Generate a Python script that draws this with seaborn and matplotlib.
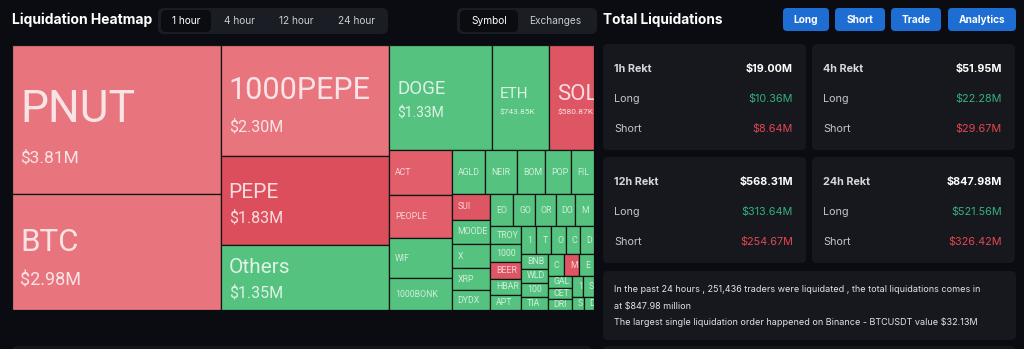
import math
import matplotlib
matplotlib.use("Agg")
import matplotlib.pyplot as plt
from matplotlib.patches import Rectangle, FancyBboxPatch
import seaborn as sns

# ---------------- data ----------------
coins = ["PNUT", "BTC", "1000PEPE", "PEPE", "Others", "DOGE", "ETH", "SOL",
         "ACT", "PEOPLE", "WIF", "1000BONK",
         "AGLD", "NEIRO", "BOME", "POPCAT", "FIL",
         "SUI", "MOODENG", "X", "XRP", "DYDX",
         "EOS", "GOAT", "ORDI", "DOGS", "MEME",
         "TROY", "1000CAT", "BEER", "HBAR", "APT",
         "1000LUNC", "TAO", "OM", "CRV", "DOT",
         "BNB", "WLD", "1000RATS", "TIA",
         "CAKE", "MEW", "ENA", "GALA", "CETUS", "DRIFT", "1MBABYDOGE", "SAND", "SATS", "DYM"]
liq_musd = [3.81, 2.98, 2.30, 1.83, 1.35, 1.33, 0.74385, 0.58087,
            0.344, 0.328, 0.313, 0.244,
            0.180, 0.170, 0.148, 0.138, 0.123,
            0.122, 0.117, 0.115, 0.103, 0.094,
            0.091, 0.087, 0.083, 0.079, 0.075,
            0.068, 0.066, 0.064, 0.061, 0.057,
            0.052, 0.051, 0.050, 0.049, 0.048,
            0.047, 0.046, 0.045, 0.043,
            0.042, 0.041, 0.038, 0.036, 0.034, 0.032, 0.030, 0.029, 0.018, 0.016]
# short-heavy coins and how strongly (0 = light red, 1 = deep red)
short_heavy = {"PNUT": 0.0, "BTC": 0.0, "1000PEPE": 0.0, "PEPE": 1.0, "SOL": 0.85,
               "ACT": 0.6, "PEOPLE": 0.6, "SUI": 0.75, "BEER": 0.75, "MEW": 0.75}

tabs_time = ["1 hour", "4 hour", "12 hour", "24 hour"]
tabs_group = ["Symbol", "Exchanges"]
buttons = ["Long", "Short", "Trade", "Analytics"]

periods = ["1h Rekt", "4h Rekt", "12h Rekt", "24h Rekt"]
total_rekt = ["$19.00M", "$51.95M", "$568.31M", "$847.98M"]
long_rekt = ["$10.36M", "$22.28M", "$313.64M", "$521.56M"]
short_rekt = ["$8.64M", "$29.67M", "$254.67M", "$326.42M"]

summary = ["In the past 24 hours , 251,436 traders were liquidated , the total liquidations comes in",
           "at $847.98 million",
           "The largest single liquidation order happened on Binance - BTCUSDT value $32.13M"]

# ---------------- style ----------------
sns.set_theme(style="dark")
plt.rcParams["font.family"] = ["Inter", "DejaVu Sans"]
BG = "#0b0c11"
CARD = "#16181e"
TABBG = "#1b1d24"
BLUE = "#1d6dd3"
GREEN_TXT = "#33b07e"
RED_TXT = "#e4464f"
reds = sns.blend_palette(["#e8757e", "#dc4e5c"], 11)
GREEN = "#55c27f"
LABEL_FONT = ["Roboto", "DejaVu Sans"]


def squarify(values, x, y, w, h, ratio=(1 + 5 ** 0.5) / 2):
    """Squarified treemap layout (rows laid along the shorter side)."""
    total = float(sum(values))
    areas = [v * w * h / total for v in values]
    rect = {"x": x, "y": y, "w": w, "h": h}
    out = [None] * len(values)

    def worst(row, row_area, fixed):
        amax = max(areas[j] for j in row)
        amin = min(areas[j] for j in row)
        sq = row_area * row_area
        f = fixed * fixed * ratio
        return max(f * amax / sq, sq / (f * amin))

    def position(row, row_area, fixed, flush):
        along_x = fixed == rect["w"]
        other = row_area / fixed
        span = rect["h"] if along_x else rect["w"]
        if flush or other > span:
            other = span
        last = rect["x"] if along_x else rect["y"]
        end = (rect["x"] + rect["w"]) if along_x else (rect["y"] + rect["h"])
        for k, j in enumerate(row):
            remain = end - last
            wh1 = areas[j] / other
            mod = remain if (k == len(row) - 1 or remain < wh1) else wh1
            if along_x:
                out[j] = (last, rect["y"], mod, other)
            else:
                out[j] = (rect["x"], last, other, mod)
            last += mod
        if along_x:
            rect["y"] += other
            rect["h"] -= other
        else:
            rect["x"] += other
            rect["w"] -= other

    row, row_area, best = [], 0.0, math.inf
    fixed = min(w, h)
    i = 0
    while i < len(values):
        row.append(i)
        row_area += areas[i]
        s = worst(row, row_area, fixed)
        if s <= best:
            i += 1
            best = s
        else:
            row.pop()
            row_area -= areas[i]
            position(row, row_area, fixed, False)
            fixed = min(rect["w"], rect["h"])
            row, row_area, best = [], 0.0, math.inf
    if row:
        position(row, row_area, fixed, True)
    return out


def fmt_usd(v):
    return f"${v:.2f}M" if v >= 1 else f"${v * 1000:.2f}K"


W, H = 1024, 349
fig = plt.figure(figsize=(W / 100, H / 100), dpi=100, facecolor=BG)
renderer = fig.canvas.get_renderer()

# page layer in pixel units
ui = fig.add_axes([0, 0, 1, 1])
ui.set_xlim(0, W)
ui.set_ylim(H, 0)
ui.axis("off")
ui.set_facecolor(BG)


def txt(ax, x, y, s, **kw):
    kw.setdefault("parse_math", False)
    return ax.text(x, y, s, **kw)


def box(x, y, w, h, color, r=5, z=1):
    ui.add_patch(FancyBboxPatch((x + r, y + r), w - 2 * r, h - 2 * r,
                                boxstyle=f"round,pad={r}", fc=color, ec="none", zorder=z))


# ---- left header ----
txt(ui, 12, 20, "Liquidation Heatmap", color="white", fontsize=10, fontweight="bold", va="center")
box(158, 8, 230, 26, TABBG, r=6)
tab_cx = [186, 239, 296, 356]
box(161, 10, 50, 22, BG, r=5, z=2)
for s, cx in zip(tabs_time, tab_cx):
    txt(ui, cx, 21, s, color="white" if s == tabs_time[0] else "#c9cbd0", fontsize=7.3,
        ha="center", va="center", zorder=3)
box(457, 8, 140, 26, TABBG, r=6)
box(460, 10, 58, 22, BG, r=5, z=2)
for s, cx in zip(tabs_group, [489, 555]):
    txt(ui, cx, 21, s, color="white" if s == "Symbol" else "#c9cbd0", fontsize=7.3,
        ha="center", va="center", zorder=3)

# ---- right header ----
txt(ui, 603, 20, "Total Liquidations", color="white", fontsize=9.8, fontweight="bold", va="center")
btn_x = [783, 835, 891, 948]
btn_w = [46, 50, 50, 68]
for s, bx, bw in zip(buttons, btn_x, btn_w):
    box(bx, 8, bw, 23, BLUE, r=4)
    txt(ui, bx + bw / 2, 20, s, color="white", fontsize=7.3, fontweight="bold",
        ha="center", va="center", zorder=3)

# ---- stat cards ----
card_pos = [(603, 44), (812, 44), (603, 157), (812, 157)]
for (cx, cy), p, t, lo, sh in zip(card_pos, periods, total_rekt, long_rekt, short_rekt):
    box(cx, cy, 203, 106, CARD, r=5)
    lx, rx = cx + 11, cx + 190
    txt(ui, lx, cy + 25, p, color="#d6d7db", fontsize=7.8, fontweight="bold", va="center", zorder=3)
    txt(ui, rx, cy + 25, t, color="white", fontsize=7.8, fontweight="bold", va="center", ha="right", zorder=3)
    txt(ui, lx, cy + 55, "Long", color="#c2c4c9", fontsize=7.8, va="center", zorder=3)
    txt(ui, rx, cy + 55, lo, color=GREEN_TXT, fontsize=7.8, va="center", ha="right", zorder=3)
    txt(ui, lx, cy + 85, "Short", color="#c2c4c9", fontsize=7.8, va="center", zorder=3)
    txt(ui, rx, cy + 85, sh, color=RED_TXT, fontsize=7.8, va="center", ha="right", zorder=3)

# ---- summary card ----
box(603, 271, 413, 69, CARD, r=5)
for k, line in enumerate(summary):
    txt(ui, 614, 290 + 16 * k, line, color="#e3e4e8", fontsize=6.5, va="center", zorder=3)

# tops of the next panels peeking in at the bottom edge
box(12, 346, 580, 20, "#15161c", r=5)
box(603, 346, 413, 20, "#15161c", r=5)

# ---- treemap ----
TX0, TY0, TX1, TY1 = 12, 45, 594, 310
tw, th = TX1 - TX0, TY1 - TY0
tm = fig.add_axes([TX0 / W, 1 - TY1 / H, tw / W, th / H])
tm.set_xlim(0, tw)
tm.set_ylim(th, 0)
tm.axis("off")
px = tw / (tm.get_position().width * W)  # data units per pixel

# name size, value size, name baseline and value baseline (fractions of cell height)
big_label = {"PNUT": (32, 12.5, 0.52, 0.79), "BTC": (22.5, 13, 0.49, 0.79),
             "1000PEPE": (22, 11.5, 0.49, 0.78), "PEPE": (15, 11.5, 0.47, 0.75),
             "Others": (15, 11.5, 0.43, 0.81), "DOGE": (13.5, 10, 0.46, 0.69),
             "ETH": (11, 6, 0.50, 0.66), "SOL": (16, 6, 0.52, 0.66)}

rects = squarify(liq_musd, 0, 0, tw, th)
for name, val, (x, y, w, h) in zip(coins, liq_musd, rects):
    if name in short_heavy:
        fc = reds[int(round(short_heavy[name] * 10))]
    else:
        fc = GREEN
    patch = Rectangle((x, y), w, h, fc=fc, ec="#0e1512", lw=0.9, zorder=1)
    tm.add_patch(patch)
    tcol = (1, 1, 1, 0.8)
    labels = []
    if name in big_label:
        nfs, vfs, fn, fv = big_label[name]
        labels.append(txt(tm, x + 8, y + fn * h, name, fontsize=nfs, color=tcol,
                          va="baseline", family=LABEL_FONT, zorder=2))
        labels.append(txt(tm, x + 8, y + fv * h, fmt_usd(val), fontsize=vfs, color=tcol,
                          va="baseline", family=LABEL_FONT, zorder=2))
    else:
        t = txt(tm, x + 6, y + h / 2, name, fontsize=6.3, color=(1, 1, 1, 0.72),
                va="center", family=LABEL_FONT, zorder=2)
        # shorten the ticker until it fits inside its cell
        room = (w - 7) / px
        s = name
        while len(s) > 1 and t.get_window_extent(renderer).width > room:
            s = s[:-1]
            t.set_text(s)
        labels.append(t)
    for t in labels:
        t.set_clip_on(True)
        t.set_clip_path(patch)

fig.savefig("out.png", dpi=100, facecolor=BG)
